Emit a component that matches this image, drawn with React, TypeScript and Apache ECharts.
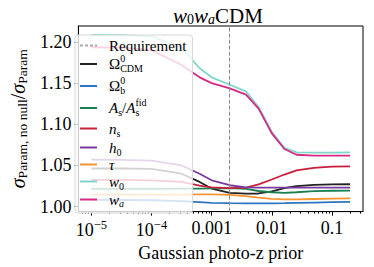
import React, { useEffect, useRef } from "react";
import * as echarts from "echarts";

// Gaussian photo-z prior values (x) and sigma ratios per parameter
const priors = [1e-5, 3.16e-5, 1e-4, 3.16e-4, 6.31e-4, 1e-3, 2e-3, 3.72e-3, 6.03e-3, 1e-2, 1.62e-2, 2.57e-2, 5.01e-2, 0.1, 0.2];
const omegaCDM = [1.0463, 1.0463, 1.0458, 1.040, 1.030, 1.022, 1.0168, 1.0158, 1.016, 1.0185, 1.0225, 1.025, 1.0265, 1.027, 1.0272];
const omegaB = [1.0082, 1.0081, 1.0078, 1.0068, 1.0055, 1.0045, 1.0042, 1.004, 1.004, 1.004, 1.0042, 1.0045, 1.005, 1.0054, 1.0057];
const aS = [1.0215, 1.0215, 1.0215, 1.0218, 1.022, 1.0222, 1.0225, 1.0215, 1.019, 1.0175, 1.0168, 1.0175, 1.0188, 1.0193, 1.0195];
const nS = [1.0325, 1.0325, 1.032, 1.030, 1.0255, 1.0235, 1.0225, 1.023, 1.027, 1.033, 1.039, 1.044, 1.047, 1.0485, 1.049];
const h0 = [1.057, 1.0568, 1.056, 1.050, 1.040, 1.032, 1.026, 1.0235, 1.023, 1.023, 1.023, 1.023, 1.023, 1.023, 1.023];
const tau = [1.0145, 1.0145, 1.0145, 1.0147, 1.0148, 1.0148, 1.0144, 1.0128, 1.011, 1.0095, 1.0088, 1.0088, 1.0093, 1.0098, 1.010];
const w0 = [1.2086, 1.2083, 1.2068, 1.193, 1.168, 1.157, 1.148, 1.140, 1.121, 1.091, 1.0715, 1.066, 1.0655, 1.0656, 1.0658];
const wa = [1.1935, 1.193, 1.190, 1.172, 1.157, 1.150, 1.1436, 1.136, 1.119, 1.089, 1.070, 1.063, 1.062, 1.062, 1.062];

const requirementPrior = 0.002;
const yTicks = [1.0, 1.05, 1.1, 1.15, 1.2];
const xTickValues = [1e-5, 1e-4, 1e-3, 1e-2, 1e-1];
const xTickLabels = ["10^-5", "10^-4", "0.001", "0.01", "0.1"];

const seriesDefs = [
  { name: "Ω_CDM^0", label: "{r|Ω}{supz|0}{sub|CDM}", color: "#222222", data: omegaCDM },
  { name: "Ω_b^0", label: "{r|Ω}{supz|0}{sub|b}", color: "#2f74c0", data: omegaB },
  { name: "A_s/A_s^fid", label: "{i|A}{sub|s}{r|/}{i|A}{subz|s}{sup|fid}", color: "#1c7f52", data: aS },
  { name: "n_s", label: "{i|n}{sub|s}", color: "#c8203b", data: nS },
  { name: "h_0", label: "{i|h}{sub|0}", color: "#7a3aa0", data: h0 },
  { name: "τ", label: "{i|τ}", color: "#f39530", data: tau },
  { name: "w_0", label: "{i|w}{sub|0}", color: "#7fd7c9", data: w0 },
  { name: "w_a", label: "{i|w}{subi|a}", color: "#d62a84", data: wa },
];

const FONT = "Liberation Serif";

export default function App() {
  const ref = useRef<HTMLDivElement>(null);
  useEffect(() => {
    if (!ref.current) return;
    const chart = echarts.init(ref.current, null, { renderer: "svg" });
    const lx = (v: number) => Math.log10(v);
    const xMin = -5.215;
    const xMax = -0.484;
    const minor: number[] = [];
    for (let d = -6; d <= 0; d++) {
      for (let k = 2; k <= 9; k++) {
        const v = Math.log10(k) + d;
        if (v > xMin && v < xMax) minor.push(v);
      }
    }
    const labelMap: Record<string, string> = { Requirement: "{r|Requirement}" };
    seriesDefs.forEach((s) => (labelMap[s.name] = s.label));
    const LH = 16.5;
    const legendRich = {
      r: { fontSize: 15, fontFamily: FONT, lineHeight: LH },
      i: { fontSize: 15, fontFamily: FONT, fontStyle: "italic", lineHeight: LH },
      sup: { fontSize: 10, fontFamily: FONT, lineHeight: LH, padding: [0, 0, 12, 0] },
      supz: { fontSize: 10, fontFamily: FONT, lineHeight: LH, width: 0, padding: [0, 0, 12, 0] },
      sub: { fontSize: 10, fontFamily: FONT, lineHeight: LH, padding: [9, 0, 0, 0] },
      subz: { fontSize: 10, fontFamily: FONT, lineHeight: LH, width: 0, padding: [9, 0, 0, 0] },
      subi: { fontSize: 10, fontFamily: FONT, fontStyle: "italic", lineHeight: LH, padding: [7, 0, 0, 0] },
    };
    const option: any = {
      animation: false,
      textStyle: { fontFamily: FONT, color: "#000" },
      title: {
        text: "{i|w}{s|0}{i|w}{si|a}{r|CDM}",
        left: 168,
        top: 0,
        textStyle: {
          fontWeight: "normal",
          rich: {
            i: { fontSize: 21, fontFamily: FONT, fontStyle: "italic", fontWeight: "normal", color: "#000" },
            r: { fontSize: 21, fontFamily: FONT, fontWeight: "normal", color: "#000" },
            s: { fontSize: 14, fontFamily: FONT, fontWeight: "normal", color: "#000", padding: [7, 0, 0, 0] },
            si: { fontSize: 14, fontFamily: FONT, fontStyle: "italic", fontWeight: "normal", color: "#000", padding: [7, 0, 0, 0] },
          },
        },
      },
      grid: { left: 67, right: 11, top: 26, bottom: 50, show: true, borderColor: "#000", borderWidth: 1, backgroundColor: "transparent" },
      legend: {
        orient: "vertical",
        left: 75,
        top: 35,
        itemWidth: 17,
        itemHeight: 2,
        itemGap: 0,
        padding: [3, 6, 5, 5],
        selectedMode: false,
        backgroundColor: "rgba(255,255,255,0.8)",
        borderColor: "#d8d8d8",
        borderWidth: 1,
        borderRadius: 3,
        data: [
          { name: "Requirement", icon: "path://M0,0h3v2h-3z M5,0h3v2h-3z M10,0h3v2h-3z M15,0h2v2h-2z" },
          ...seriesDefs.map((s) => ({ name: s.name, icon: "rect" })),
        ],
        formatter: (n: string) => labelMap[n] || n,
        textStyle: { padding: [0, 0, 0, 7], rich: legendRich },
      },
      xAxis: [
        {
          type: "value",
          min: xMin,
          max: xMax,
          position: "bottom",
          name: "Gaussian photo-z prior",
          nameLocation: "middle",
          nameGap: 26,
          nameTextStyle: { fontSize: 18, fontFamily: FONT, color: "#000" },
          axisLine: { show: true, lineStyle: { color: "#000", width: 1 } },
          axisTick: { show: true, length: 4, lineStyle: { color: "#000" }, customValues: xTickValues.map(lx) },
          axisLabel: {
            show: true,
            margin: 7,
            customValues: xTickValues.map(lx),
            formatter: (v: number) => {
              const idx = xTickValues.findIndex((t) => Math.abs(lx(t) - v) < 1e-6);
              const s = idx >= 0 ? xTickLabels[idx] : "";
              if (s.includes("^")) {
                const [b, e] = s.split("^");
                return `{b|${b}}{e|${e.replace("-", "−")}}`;
              }
              return `{b|${s}}`;
            },
            rich: {
              b: { fontSize: 18, fontFamily: FONT, color: "#000" },
              e: { fontSize: 12.5, fontFamily: FONT, color: "#000", padding: [0, 0, 10, 0] },
            },
          },
          splitLine: { show: false },
        },
        {
          type: "value",
          min: xMin,
          max: xMax,
          position: "bottom",
          axisLine: { show: false },
          axisTick: { show: true, length: 2, lineStyle: { color: "#000" }, customValues: minor },
          axisLabel: { show: false },
          splitLine: { show: false },
        },
      ],
      yAxis: {
        type: "value",
        min: 0.994,
        max: 1.2193,
        name: "{s|σ}{sub|Param, no null}{r|/}{s|σ}{sub|Param}",
        nameLocation: "middle",
        nameRotate: 90,
        nameGap: 48,
        nameTextStyle: {
          rich: {
            s: { fontSize: 20, fontFamily: FONT, fontStyle: "italic", color: "#000" },
            r: { fontSize: 20, fontFamily: FONT, color: "#000" },
            sub: { fontSize: 13.5, fontFamily: FONT, color: "#000", padding: [8, 0, 0, 0] },
          },
        },
        axisLine: { show: true, lineStyle: { color: "#000", width: 1 } },
        axisTick: { show: true, length: 4, lineStyle: { color: "#000" }, customValues: yTicks },
        axisLabel: {
          show: true,
          margin: 7,
          customValues: yTicks,
          formatter: (v: number) => v.toFixed(2),
          fontSize: 18,
          fontFamily: FONT,
          color: "#000",
        },
        splitLine: { show: false },
      },
      series: [
        {
          name: "Requirement",
          type: "line",
          color: "#aaaaaa",
          data: [],
          markLine: {
            silent: true,
            symbol: "none",
            label: { show: false },
            lineStyle: { color: "#888", type: [4, 2], width: 1 },
            data: [{ xAxis: lx(requirementPrior) }],
          },
        },
        ...seriesDefs.map((s) => ({
          name: s.name,
          type: "line",
          color: s.color,
          showSymbol: false,
          symbol: "none",
          lineStyle: { width: 1.8, color: s.color },
          data: priors.map((p, i) => [lx(p), s.data[i]]),
        })),
      ],
    };
    chart.setOption(option);
    return () => chart.dispose();
  }, []);
  return <div ref={ref} style={{ width: 374, height: 267, position: "absolute", left: 0, top: 0 }} />;
}
